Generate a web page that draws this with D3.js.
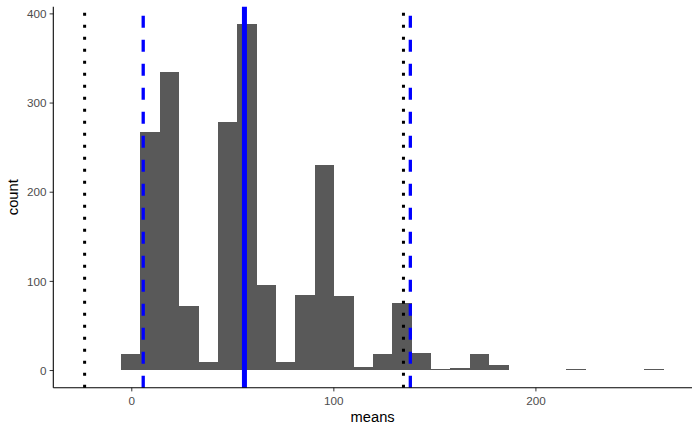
<!DOCTYPE html>
<html>
<head>
<meta charset="utf-8">
<script src="https://cdn.jsdelivr.net/npm/d3@7"></script>
<style>
  html, body { margin: 0; padding: 0; background: #fff; }
  text { font-family: "Liberation Sans", Arial, sans-serif; }
</style>
</head>
<body>
<svg id="chart" width="700" height="432"></svg>
<script>
// ---- data ----
const binStarts = [-5.1, 4.5, 14.1, 23.7, 33.2, 42.8, 52.4, 62.0, 71.6, 81.2, 90.7, 100.3, 109.9, 119.5,
                   129.1, 138.7, 148.2, 157.8, 167.4, 177.0, 186.6, 196.2, 205.7, 215.3, 224.9, 234.5, 244.1, 253.7];
const binWidth = 9.584;
const counts = [18, 267, 334, 72, 9, 278, 388, 95, 9, 84, 230, 83, 3, 18,
                75, 19, 1, 2, 18, 6, 0, 0, 0, 1, 0, 0, 0, 1];
const xTicks = [0, 100, 200];
const yTicks = [0, 100, 200, 300, 400];
const meanLine = [56.0];
const dashedLines = [5.9, 138.1];
const dottedLines = [-23.1, 134.7];
const xTitle = "means";
const yTitle = "count";

// ---- layout ----
const svg = d3.select("#chart");
const pLeft = 53.3, pRight = 692, pTop = 6.7, pBottom = 387.7;

const x = d3.scaleLinear().domain([-38.6, 277.5]).range([pLeft, pRight]);
const y = d3.scaleLinear().domain([-19.8, 407.5]).range([pBottom, pTop]);

const bins = binStarts.map((s, i) => ({ x0: s, x1: s + binWidth, n: counts[i] }));

// bars
svg.append("g").attr("shape-rendering", "crispEdges").selectAll("rect")
  .data(bins.filter(d => d.n > 0))
  .join("rect")
  .attr("x", d => x(d.x0))
  .attr("width", d => x(d.x1) - x(d.x0) + 0.3)
  .attr("y", d => y(d.n))
  .attr("height", d => y(0) - y(d.n))
  .attr("fill", "#595959");

// vertical reference lines (drawn bottom to top like ggplot)
const vg = svg.append("g");
vg.selectAll("line.dotted").data(dottedLines).join("line")
  .attr("class", "dotted")
  .attr("x1", d => x(d)).attr("x2", d => x(d))
  .attr("y1", pBottom).attr("y2", pTop)
  .attr("stroke", "#000").attr("stroke-width", 3)
  .attr("stroke-dasharray", "3,9");
vg.selectAll("line.dashed").data(dashedLines).join("line")
  .attr("class", "dashed")
  .attr("x1", d => x(d)).attr("x2", d => x(d))
  .attr("y1", pBottom).attr("y2", pTop)
  .attr("stroke", "#0000FF").attr("stroke-width", 3.3)
  .attr("stroke-dasharray", "12,12");
vg.selectAll("line.mean").data(meanLine).join("line")
  .attr("class", "mean")
  .attr("x1", d => x(d)).attr("x2", d => x(d))
  .attr("y1", pBottom).attr("y2", pTop)
  .attr("stroke", "#0000FF").attr("stroke-width", 5);

// axes
const xAxis = svg.append("g").attr("transform", `translate(0,${pBottom})`)
  .call(d3.axisBottom(x).tickValues(xTicks).tickSize(3.7).tickPadding(4).tickSizeOuter(0));
const yAxis = svg.append("g").attr("transform", `translate(${pLeft},0)`)
  .call(d3.axisLeft(y).tickValues(yTicks).tickSize(3.7).tickPadding(3).tickSizeOuter(0));

[xAxis, yAxis].forEach(a => {
  a.select(".domain").remove();
  a.selectAll(".tick line").attr("stroke", "#333333").attr("stroke-width", 1);
  a.selectAll(".tick text").attr("fill", "#4D4D4D").style("font-size", "11.7px")
    .style("font-family", "'Liberation Sans', Arial, sans-serif");
});
xAxis.selectAll(".tick text").attr("dy", null).attr("y", 17.3);
yAxis.selectAll(".tick text").attr("dy", "0.36em");

// axis lines
svg.append("line").attr("x1", pLeft).attr("x2", pRight).attr("y1", pBottom).attr("y2", pBottom)
  .attr("stroke", "#000").attr("stroke-width", 1.07);
svg.append("line").attr("x1", pLeft).attr("x2", pLeft).attr("y1", pTop).attr("y2", pBottom)
  .attr("stroke", "#000").attr("stroke-width", 1.07);

// titles
svg.append("text").attr("x", (pLeft + pRight) / 2).attr("y", 421.5)
  .attr("text-anchor", "middle").style("font-size", "14.7px").attr("fill", "#000").text(xTitle);
svg.append("text").attr("transform", `translate(18.3,${(pTop + pBottom) / 2}) rotate(-90)`)
  .attr("text-anchor", "middle").style("font-size", "14.7px").attr("fill", "#000").text(yTitle);
</script>
</body>
</html>
